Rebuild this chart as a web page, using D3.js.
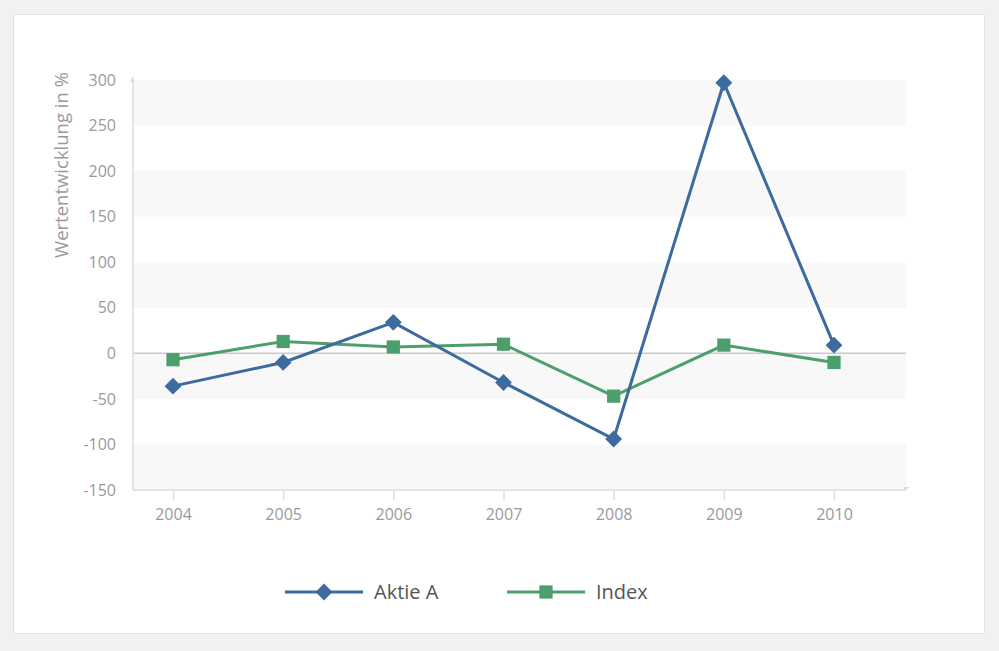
<!DOCTYPE html>
<html>
<head>
<meta charset="utf-8">
<script src="https://cdn.jsdelivr.net/npm/d3@7"></script>
<style>
  body { margin: 0; background: #f1f1f1; }
  svg { display: block; font-family: "Open Sans", "Noto Sans", sans-serif; }
</style>
</head>
<body>
<svg id="chart" width="999" height="651"></svg>
<script>
const years = ['2004', '2005', '2006', '2007', '2008', '2009', '2010'];
const aktieA = [-36, -10, 34, -32, -94, 297, 9];
const indexValues = [-7, 13, 7, 10, -47, 9, -10];
const yTicks = [300, 250, 200, 150, 100, 50, 0, -50, -100, -150];

const blue = '#3d6a9f';
const green = '#4c9f6c';
const font = '"Open Sans", "Noto Sans", sans-serif';

const svg = d3.select('#chart');

// card
svg.append('rect')
  .attr('x', 13.5).attr('y', 14.5)
  .attr('width', 971).attr('height', 619)
  .attr('fill', '#fff')
  .attr('stroke', '#e4e4e4');

const plotLeft = 133, plotRight = 906, plotTop = 80, plotBottom = 490;

const x = d3.scalePoint().domain(years).range([173, 834]);
const y = d3.scaleLinear().domain([-150, 300]).range([plotBottom, plotTop]);

// alternating bands
const g = svg.append('g');
d3.range(300, -150, -100).forEach(v => {
  g.append('rect')
    .attr('x', plotLeft).attr('y', y(v))
    .attr('width', plotRight - plotLeft).attr('height', y(v - 50) - y(v))
    .attr('fill', '#f8f8f8');
});

// zero line
g.append('line')
  .attr('x1', plotLeft).attr('x2', plotRight)
  .attr('y1', y(0)).attr('y2', y(0))
  .attr('stroke', '#c9c9c9').attr('stroke-width', 1.5);

// axes lines
g.append('line')
  .attr('x1', plotLeft).attr('x2', plotLeft)
  .attr('y1', plotTop).attr('y2', plotBottom)
  .attr('stroke', '#dcdcdc').attr('stroke-width', 1.5);
g.append('line')
  .attr('x1', plotLeft).attr('x2', plotRight)
  .attr('y1', plotBottom).attr('y2', plotBottom)
  .attr('stroke', '#dcdcdc').attr('stroke-width', 1.5);
g.append('path')
  .attr('d', `M${plotLeft - 3},${plotTop + 2}L${plotLeft},${plotTop - 4}L${plotLeft + 1},${plotTop + 2}Z`)
  .attr('fill', '#dcdcdc');
g.append('path')
  .attr('d', `M${plotRight - 2},${plotBottom - 3}L${plotRight + 4},${plotBottom - 3}L${plotRight - 2},${plotBottom + 1}Z`)
  .attr('fill', '#dcdcdc');

// y axis
const yAxis = d3.axisLeft(y).tickValues(yTicks).tickSize(0).tickPadding(17)
  .tickFormat(d => String(d));
svg.append('g')
  .attr('transform', `translate(${plotLeft},0)`)
  .call(yAxis)
  .attr('font-family', font)
  .attr('font-size', 16)
  .call(s => s.select('.domain').remove())
  .selectAll('text')
  .attr('fill', '#9a9a9a');

// x axis
const xAxis = d3.axisBottom(x).tickSize(10).tickPadding(9);
svg.append('g')
  .attr('transform', `translate(0,${plotBottom})`)
  .call(xAxis)
  .attr('font-family', font)
  .attr('font-size', 16)
  .call(s => s.select('.domain').remove())
  .call(s => s.selectAll('line').attr('stroke', '#dcdcdc').attr('stroke-width', 1.5))
  .selectAll('text')
  .attr('fill', '#9a9a9a');

// y title
svg.append('text')
  .attr('transform', 'translate(68,165) rotate(-90)')
  .attr('text-anchor', 'middle')
  .attr('fill', '#9a9a9a')
  .attr('font-size', 18.5)
  .text('Wertentwicklung in %');

const line = d3.line().x((d, i) => x(years[i])).y(d => y(d));

const diamond = d3.symbol().type(d3.symbolDiamond2).size(180);
const square = d3.symbol().type(d3.symbolSquare).size(175);

// Index series
svg.append('path')
  .datum(indexValues)
  .attr('d', line)
  .attr('fill', 'none')
  .attr('stroke', green)
  .attr('stroke-width', 3);
svg.append('g').selectAll('path')
  .data(indexValues)
  .join('path')
  .attr('transform', (d, i) => `translate(${x(years[i])},${y(d)})`)
  .attr('d', square)
  .attr('fill', green);

// Aktie A series
svg.append('path')
  .datum(aktieA)
  .attr('d', line)
  .attr('fill', 'none')
  .attr('stroke', blue)
  .attr('stroke-width', 3);
svg.append('g').selectAll('path')
  .data(aktieA)
  .join('path')
  .attr('transform', (d, i) => `translate(${x(years[i])},${y(d)})`)
  .attr('d', diamond)
  .attr('fill', blue);

// legend
const legend = [
  { name: 'Aktie A', color: blue, sym: diamond, x: 285 },
  { name: 'Index', color: green, sym: square, x: 507 }
];
const lg = svg.append('g').selectAll('g')
  .data(legend)
  .join('g')
  .attr('transform', d => `translate(${d.x},592)`);
lg.append('line')
  .attr('x1', 0).attr('x2', 78)
  .attr('stroke', d => d.color).attr('stroke-width', 3);
lg.append('path')
  .attr('transform', 'translate(39,0)')
  .attr('d', d => d.sym())
  .attr('fill', d => d.color);
lg.append('text')
  .attr('x', 89).attr('dy', '0.35em')
  .attr('fill', '#555')
  .attr('font-size', 20)
  .text(d => d.name);
</script>
</body>
</html>
